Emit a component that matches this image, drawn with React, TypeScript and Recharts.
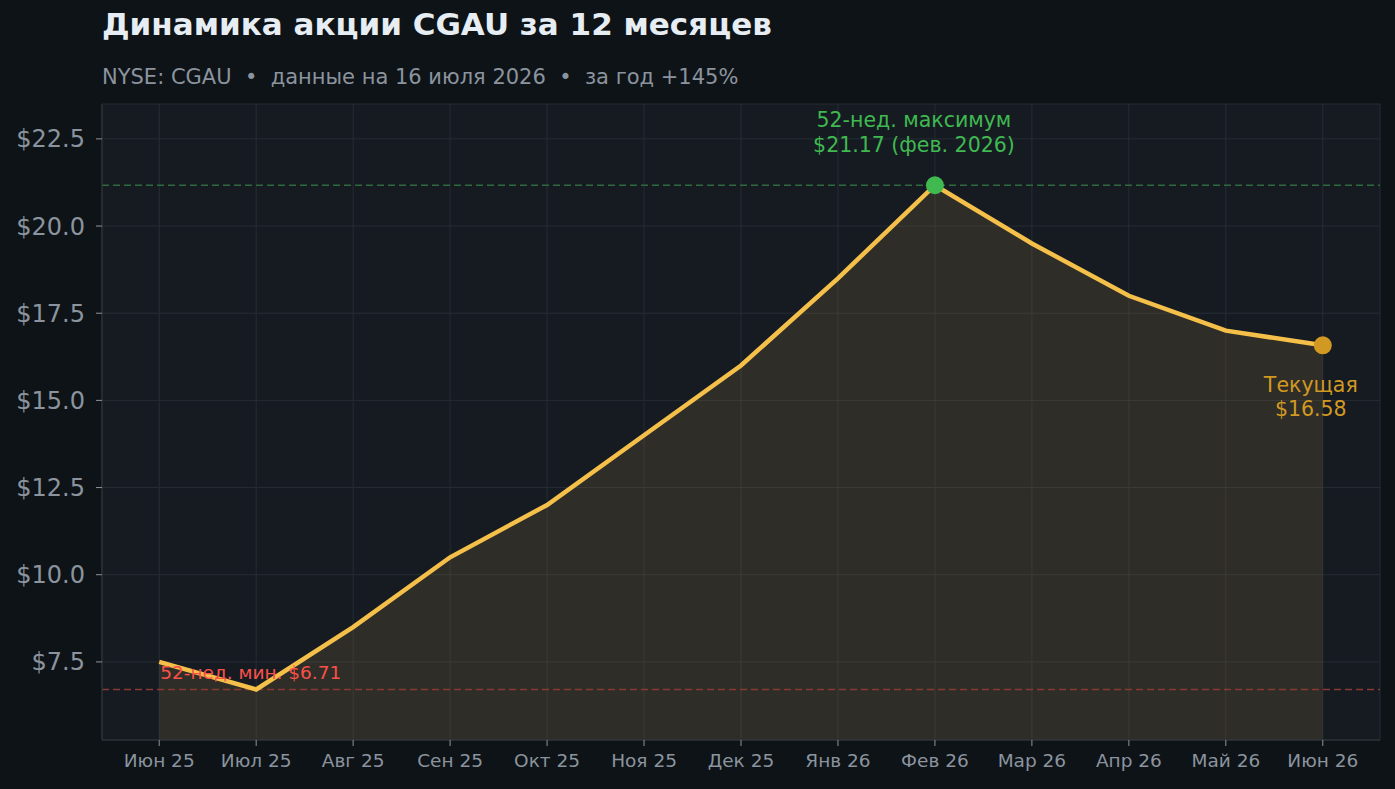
import {
  ComposedChart,
  Area,
  Line,
  XAxis,
  YAxis,
  CartesianGrid,
  ReferenceLine,
  ReferenceDot,
} from "recharts";

const months = [
  "Июн 25", "Июл 25", "Авг 25", "Сен 25", "Окт 25", "Ноя 25", "Дек 25",
  "Янв 26", "Фев 26", "Мар 26", "Апр 26", "Май 26", "Июн 26",
];
const prices = [7.5, 6.71, 8.5, 10.5, 12.0, 14.0, 16.0, 18.5, 21.17, 19.5, 18.0, 17.0, 16.58];
const yTicks = [7.5, 10, 12.5, 15, 17.5, 20, 22.5];

const high = 21.17;
const highIndex = 8;
const low = 6.71;
const lowIndex = 0;
const current = 16.58;
const currentIndex = 12;

const FONT = "'DejaVu Sans', sans-serif";
const data = months.map((m, i) => ({ i, month: m, price: prices[i] }));

function HighLabel(props: any) {
  const { viewBox } = props;
  const cx = viewBox.x + viewBox.width / 2;
  const cy = viewBox.y + viewBox.height / 2;
  return (
    <text x={cx - 21} textAnchor="middle" fill="#3fb950" fontSize={20.5} fontFamily={FONT}>
      <tspan x={cx - 21} y={cy - 58}>52-нед. максимум</tspan>
      <tspan x={cx - 21} y={cy - 33}>$21.17 (фев. 2026)</tspan>
    </text>
  );
}

function CurrentLabel(props: any) {
  const { viewBox } = props;
  const cx = viewBox.x + viewBox.width / 2;
  const cy = viewBox.y + viewBox.height / 2;
  return (
    <text x={cx - 12} textAnchor="middle" fill="#d29922" fontSize={20.5} fontFamily={FONT}>
      <tspan x={cx - 12} y={cy + 47}>Текущая</tspan>
      <tspan x={cx - 12} y={cy + 71}>$16.58</tspan>
    </text>
  );
}

function LowLabel(props: any) {
  const { viewBox } = props;
  return (
    <text x={viewBox.x + 1} y={viewBox.y - 10} fill="#f85149" fontSize={18.5} fontFamily={FONT}>
      52-нед. мин. $6.71
    </text>
  );
}

export default function App() {
  return (
    <div
      style={{
        position: "absolute",
        left: 0,
        top: 0,
        width: 1395,
        height: 789,
        background: "#0e1317",
        fontFamily: FONT,
      }}
    >
      <div style={{ position: "absolute", left: 102, top: 6, fontSize: 31, fontWeight: "bold", color: "#e6edf3", whiteSpace: "nowrap" }}>
        Динамика акции CGAU за 12 месяцев
      </div>
      <div style={{ position: "absolute", left: 102, top: 65, fontSize: 21, color: "#8b949e", whiteSpace: "nowrap" }}>
        NYSE: CGAU&nbsp; •&nbsp; данные на 16 июля 2026&nbsp; •&nbsp; за год +145%
      </div>
      <ComposedChart
        width={1395}
        height={789}
        data={data}
        margin={{ top: 104, right: 15, left: 0, bottom: 0 }}
      >
        <CartesianGrid stroke="#262c35" fill="#161b22" />
        <XAxis
          dataKey="i"
          type="number"
          domain={[-0.59, 12.59]}
          ticks={months.map((_, i) => i)}
          tickFormatter={(v: number) => months[v]}
          allowDataOverflow
          height={49}
          stroke="#30363d"
          tickSize={6}
          tickMargin={8}
          tickLine={{ stroke: "#8b949e" }}
          tick={{ fill: "#8b949e", fontSize: 18.5, fontFamily: FONT }}
        />
        <YAxis
          type="number"
          domain={[5.26, 23.5]}
          ticks={yTicks}
          allowDataOverflow
          width={102}
          stroke="#30363d"
          tickSize={6}
          tickMargin={11}
          tickLine={{ stroke: "#8b949e" }}
          tickFormatter={(v: number) => "$" + v.toFixed(1)}
          tick={{ fill: "#8b949e", fontSize: 24, fontFamily: FONT }}
        />
        <ReferenceLine y={high} stroke="#2e6b3c" strokeDasharray="7 4" strokeWidth={1.6} />
        <ReferenceLine y={low} stroke="#8b3a33" strokeDasharray="7 4" strokeWidth={1.6} />
        <Area
          dataKey="price"
          type="linear"
          stroke="none"
          fill="#f2c14e"
          fillOpacity={0.11}
          isAnimationActive={false}
        />
        <Line
          dataKey="price"
          type="linear"
          stroke="#f5c04a"
          strokeWidth={4.5}
          dot={false}
          isAnimationActive={false}
        />
        <ReferenceDot x={lowIndex} y={low} r={0} fill="none" stroke="none" label={<LowLabel />} />
        <ReferenceDot
          x={highIndex}
          y={high}
          r={9}
          fill="#3fb950"
          stroke="none"
          label={<HighLabel />}
        />
        <ReferenceDot
          x={currentIndex}
          y={current}
          r={9}
          fill="#d29922"
          stroke="none"
          label={<CurrentLabel />}
        />
      </ComposedChart>
    </div>
  );
}
